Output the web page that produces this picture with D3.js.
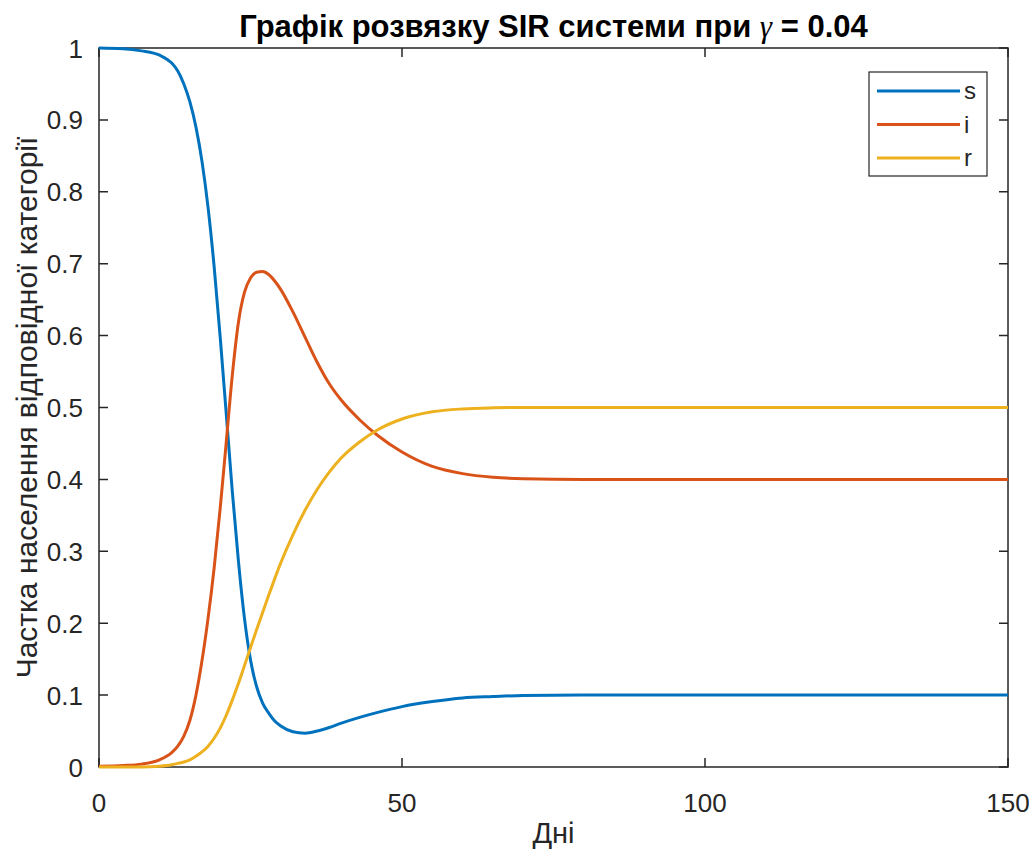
<!DOCTYPE html>
<html lang="uk">
<head>
<meta charset="UTF-8">
<title>SIR</title>
<script src="https://d3js.org/d3.v7.min.js"></script>
<style>
  body { margin: 0; background: #fff; }
  svg { display: block; font-family: 'Liberation Sans', Arial, sans-serif; }
</style>
</head>
<body>
<svg id="chart" width="1036" height="854"></svg>
<script>
// days
const days = [0, 4, 7, 10, 12, 13, 14, 15, 16, 17, 18, 19, 20, 21, 22, 23, 24, 25, 26, 27, 28, 29, 30,
  32, 34, 36, 38, 40, 43, 46, 50, 55, 60, 65, 70, 80, 90, 110, 130, 150];

const sVals = [1.000, 0.999, 0.996, 0.990, 0.979, 0.968, 0.950, 0.925, 0.890, 0.842, 0.778, 0.696, 0.598, 0.491,
  0.383, 0.287, 0.207, 0.149, 0.112, 0.089, 0.075, 0.064, 0.057,
  0.049, 0.047, 0.050, 0.055, 0.061, 0.069, 0.076, 0.084, 0.091, 0.096, 0.098, 0.0995, 0.100, 0.100, 0.100, 0.100, 0.100];

const iVals = [0.001, 0.002, 0.004, 0.010, 0.020, 0.029, 0.043, 0.065, 0.100, 0.148, 0.207, 0.277, 0.360, 0.452,
  0.545, 0.618, 0.660, 0.680, 0.688, 0.689, 0.685, 0.676, 0.664,
  0.633, 0.598, 0.563, 0.533, 0.510, 0.483, 0.461, 0.438, 0.418, 0.408, 0.403, 0.401, 0.400, 0.400, 0.400, 0.400, 0.400];

const rVals = [0.000, 0.000, 0.000, 0.001, 0.003, 0.005, 0.007, 0.010, 0.015, 0.021, 0.029, 0.040, 0.054, 0.072,
  0.093, 0.116, 0.141, 0.166, 0.191, 0.215, 0.239, 0.262, 0.284,
  0.323, 0.357, 0.386, 0.410, 0.430, 0.452, 0.469, 0.484, 0.494, 0.498, 0.4995, 0.500, 0.500, 0.500, 0.500, 0.500, 0.500];

const seriesNames = ["s", "i", "r"];
const seriesColors = ["#0072BD", "#D95319", "#EDB120"];
const xTicks = [0, 50, 100, 150];
const yTicks = [0, 0.1, 0.2, 0.3, 0.4, 0.5, 0.6, 0.7, 0.8, 0.9, 1];

const svg = d3.select("#chart");
const pL = 99, pR = 1008, pT = 48, pB = 767;
const axisColor = "#262626";

const x = d3.scaleLinear().domain([0, 150]).range([pL, pR]);
const y = d3.scaleLinear().domain([0, 1]).range([pB, pT]);

// box
svg.append("rect")
  .attr("x", pL).attr("y", pT)
  .attr("width", pR - pL).attr("height", pB - pT)
  .attr("fill", "none").attr("stroke", axisColor).attr("stroke-width", 1.5);

// ticks, pointing inside on all four sides
const tickLen = 9;
svg.selectAll(".xt").data(xTicks).enter().append("path")
  .attr("d", d => `M${x(d)},${pB}v${-tickLen}M${x(d)},${pT}v${tickLen}`)
  .attr("stroke", axisColor).attr("stroke-width", 1.5);
svg.selectAll(".yt").data(yTicks).enter().append("path")
  .attr("d", d => `M${pL},${y(d)}h${tickLen}M${pR},${y(d)}h${-tickLen}`)
  .attr("stroke", axisColor).attr("stroke-width", 1.5);

// tick labels
svg.selectAll(".xl").data(xTicks).enter().append("text")
  .attr("x", d => x(d)).attr("y", 812)
  .attr("text-anchor", "middle")
  .attr("font-size", 26).attr("fill", axisColor)
  .text(d => d);
svg.selectAll(".yl").data(yTicks).enter().append("text")
  .attr("x", 83).attr("y", d => y(d) + 9.5)
  .attr("text-anchor", "end")
  .attr("font-size", 26).attr("fill", axisColor)
  .text(d => d3.format("~g")(d));

// lines
const allVals = [sVals, iVals, rVals];
const line = d3.line()
  .x(d => x(d[0]))
  .y(d => y(d[1]))
  .curve(d3.curveMonotoneX);

allVals.forEach((vals, k) => {
  svg.append("path")
    .datum(days.map((t, j) => [t, vals[j]]))
    .attr("d", line)
    .attr("fill", "none")
    .attr("stroke", seriesColors[k])
    .attr("stroke-width", 3);
});

// legend
const lg = svg.append("g");
lg.append("rect")
  .attr("x", 869).attr("y", 72).attr("width", 118).attr("height", 104)
  .attr("fill", "#fff").attr("stroke", axisColor).attr("stroke-width", 1.2);
seriesNames.forEach((name, k) => {
  const ly = 91 + k * 33.5;
  lg.append("line")
    .attr("x1", 877).attr("x2", 960).attr("y1", ly).attr("y2", ly)
    .attr("stroke", seriesColors[k]).attr("stroke-width", 3);
  lg.append("text")
    .attr("x", 964).attr("y", ly + 8)
    .attr("font-size", 24).attr("fill", axisColor)
    .text(name);
});

// title
const title = svg.append("text")
  .attr("x", (pL + pR) / 2).attr("y", 37)
  .attr("text-anchor", "middle")
  .attr("font-size", 31).attr("font-weight", "bold").attr("fill", "#000");
title.append("tspan").text("Графік розвязку SIR системи при ");
title.append("tspan")
  .attr("font-family", "'Liberation Serif', 'Times New Roman', serif")
  .attr("font-style", "italic").attr("font-weight", "normal")
  .text("γ");
title.append("tspan").text(" = 0.04");

// axis labels
svg.append("text")
  .attr("x", (pL + pR) / 2).attr("y", 843)
  .attr("text-anchor", "middle")
  .attr("font-size", 29).attr("fill", axisColor)
  .text("Дні");
svg.append("text")
  .attr("transform", `translate(37,${(pT + pB) / 2}) rotate(-90)`)
  .attr("text-anchor", "middle")
  .attr("font-size", 30).attr("fill", axisColor)
  .text("Частка населення відповідної категорії");
</script>
</body>
</html>
